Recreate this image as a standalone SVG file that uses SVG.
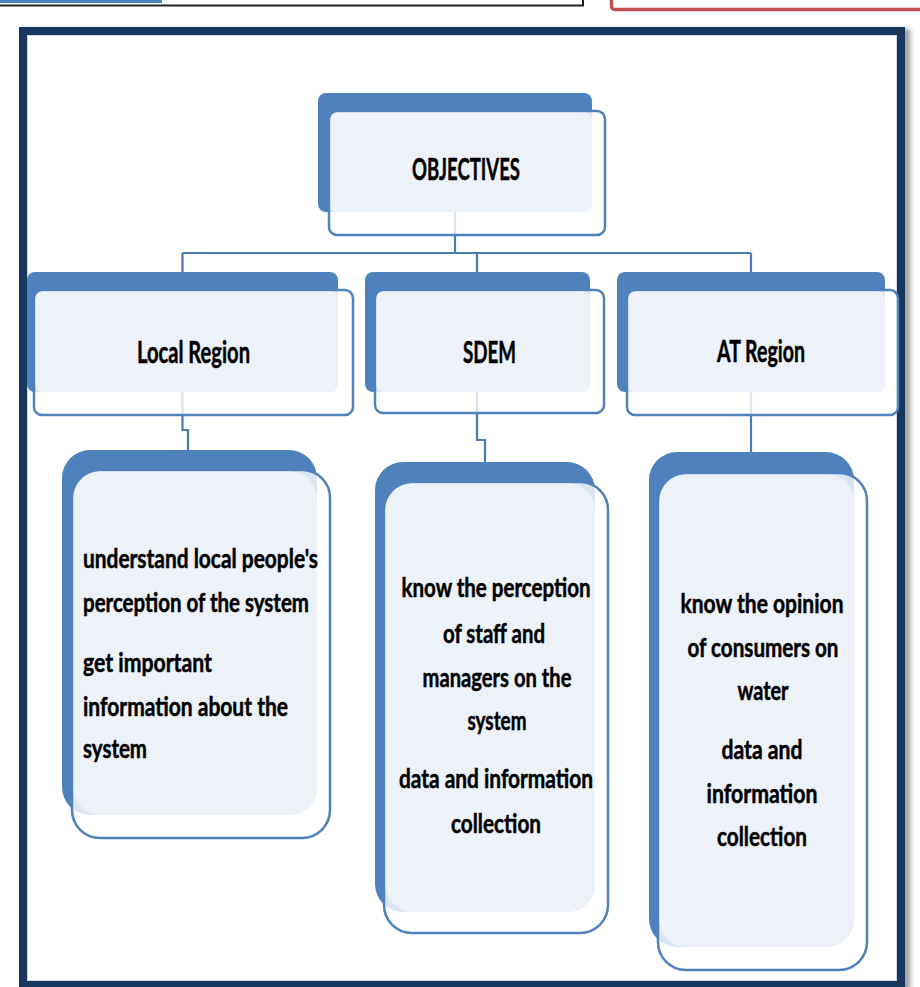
<svg xmlns="http://www.w3.org/2000/svg" width="920" height="987" viewBox="0 0 920 987">
<defs>
<style>
.back{fill:#4f81bd}
.front{fill:#ffffff;fill-opacity:0.8;stroke:#4f81bd;stroke-width:2.5}
.light{fill:#edf2f9}
.conn{fill:none;stroke:#4a7bb7;stroke-width:2.2}
.t{font-family:Lato,"Liberation Sans",sans-serif;font-weight:bold;fill:#000;stroke:#000;stroke-width:0.5}
.t2{font-size:31px;text-anchor:middle}
.t3{font-size:27px}
.c{text-anchor:middle}
</style>
<filter id="sh" x="-5%" y="-5%" width="115%" height="115%"><feGaussianBlur stdDeviation="2.5"/></filter>
</defs>
<rect x="0" y="0" width="920" height="987" fill="#ffffff"/>
<!-- top strips -->
<rect x="-3" y="-10" width="586" height="15.5" fill="#ffffff" stroke="#222222" stroke-width="2"/>
<rect x="0" y="0" width="162" height="3" fill="#4f81bd"/>
<rect x="611.5" y="-12" width="330" height="21.5" rx="3" fill="#ffffff" stroke="#c0504d" stroke-width="3.5"/>
<!-- frame -->
<rect x="26" y="33" width="880" height="954" fill="none" stroke="#9a9a9a" stroke-width="8" filter="url(#sh)"/>
<rect x="23" y="31" width="878" height="954" fill="#ffffff" stroke="#17375e" stroke-width="8"/>
<rect x="27.5" y="35.5" width="869" height="945" fill="none" stroke="#d0d4da" stroke-width="1"/>

<g id="connectors">
<path class="conn" d="M455,212 V253"/>
<path class="conn" d="M182.5,253 H751"/>
<path class="conn" d="M182.5,253 V272 M477,253 V272 M751,253 V272"/>
<path class="conn" d="M182.5,392 V430 H188 V450"/>
<path class="conn" d="M477,392 V440 H485 V462"/>
<path class="conn" d="M751,392 V452"/>
</g>

<g id="objectives">
<rect class="back" x="318" y="93" width="274" height="119" rx="8"/>
<rect class="front" x="329" y="111" width="276" height="124" rx="8"/>
<rect class="light" x="330.5" y="112.5" width="261.5" height="99.5" rx="7"/>
<text class="t t2" x="466" y="180" textLength="108" lengthAdjust="spacingAndGlyphs">OBJECTIVES</text>
</g>

<g id="local-region">
<rect class="back" x="27" y="272" width="311" height="120" rx="8"/>
<rect class="front" x="34" y="290" width="319" height="125" rx="8"/>
<rect class="light" x="35.5" y="291.5" width="302.5" height="100.5" rx="7"/>
<text class="t t2" x="193.5" y="363" textLength="113" lengthAdjust="spacingAndGlyphs">Local Region</text>
</g>

<g id="sdem">
<rect class="back" x="365" y="272" width="225" height="120" rx="8"/>
<rect class="front" x="375" y="290" width="229" height="123" rx="8"/>
<rect class="light" x="376.5" y="291.5" width="213.5" height="100.5" rx="7"/>
<text class="t t2" x="489.5" y="363" textLength="53" lengthAdjust="spacingAndGlyphs">SDEM</text>
</g>

<g id="at-region">
<rect class="back" x="617" y="272" width="268" height="120" rx="8"/>
<rect class="front" x="627" y="290" width="271" height="125" rx="8"/>
<rect class="light" x="628.5" y="291.5" width="256.5" height="100.5" rx="7"/>
<text class="t t2" x="761" y="362" textLength="88" lengthAdjust="spacingAndGlyphs">AT Region</text>
</g>

<g id="local-objectives">
<rect class="back" x="62" y="450" width="255" height="365" rx="28"/>
<rect class="front" x="72" y="470" width="258" height="368" rx="28"/>
<rect class="light" x="73.5" y="471.5" width="243.5" height="343.5" rx="27"/>
<text class="t t3" x="83" y="568" textLength="235" lengthAdjust="spacingAndGlyphs">understand local people's</text>
<text class="t t3" x="83" y="612" textLength="226" lengthAdjust="spacingAndGlyphs">perception of the system</text>
<text class="t t3" x="83" y="672" textLength="129" lengthAdjust="spacingAndGlyphs">get important</text>
<text class="t t3" x="83" y="716" textLength="205" lengthAdjust="spacingAndGlyphs">information about the</text>
<text class="t t3" x="83" y="758" textLength="64" lengthAdjust="spacingAndGlyphs">system</text>
</g>

<g id="sdem-objectives">
<rect class="back" x="375" y="462" width="220" height="450" rx="28"/>
<rect class="front" x="384" y="482" width="224" height="451" rx="28"/>
<rect class="light" x="385.5" y="483.5" width="209.5" height="428.5" rx="27"/>
<text class="t t3 c" x="496" y="597" textLength="189" lengthAdjust="spacingAndGlyphs">know the perception</text>
<text class="t t3 c" x="494" y="643" textLength="102" lengthAdjust="spacingAndGlyphs">of staff and</text>
<text class="t t3 c" x="497" y="687" textLength="149" lengthAdjust="spacingAndGlyphs">managers on the</text>
<text class="t t3 c" x="497" y="730" textLength="59" lengthAdjust="spacingAndGlyphs">system</text>
<text class="t t3 c" x="496" y="788" textLength="194" lengthAdjust="spacingAndGlyphs">data and information</text>
<text class="t t3 c" x="496" y="833" textLength="90" lengthAdjust="spacingAndGlyphs">collection</text>
</g>

<g id="at-objectives">
<rect class="back" x="649" y="452" width="205" height="495" rx="28"/>
<rect class="front" x="658" y="473" width="209" height="497" rx="28"/>
<rect class="light" x="659.5" y="474.5" width="194.5" height="472.5" rx="27"/>
<text class="t t3 c" x="762" y="613" textLength="163" lengthAdjust="spacingAndGlyphs">know the opinion</text>
<text class="t t3 c" x="763" y="657" textLength="151" lengthAdjust="spacingAndGlyphs">of consumers on</text>
<text class="t t3 c" x="763" y="700" textLength="51" lengthAdjust="spacingAndGlyphs">water</text>
<text class="t t3 c" x="762" y="759" textLength="81" lengthAdjust="spacingAndGlyphs">data and</text>
<text class="t t3 c" x="762" y="803" textLength="111" lengthAdjust="spacingAndGlyphs">information</text>
<text class="t t3 c" x="762" y="846" textLength="90" lengthAdjust="spacingAndGlyphs">collection</text>
</g>
</svg>
